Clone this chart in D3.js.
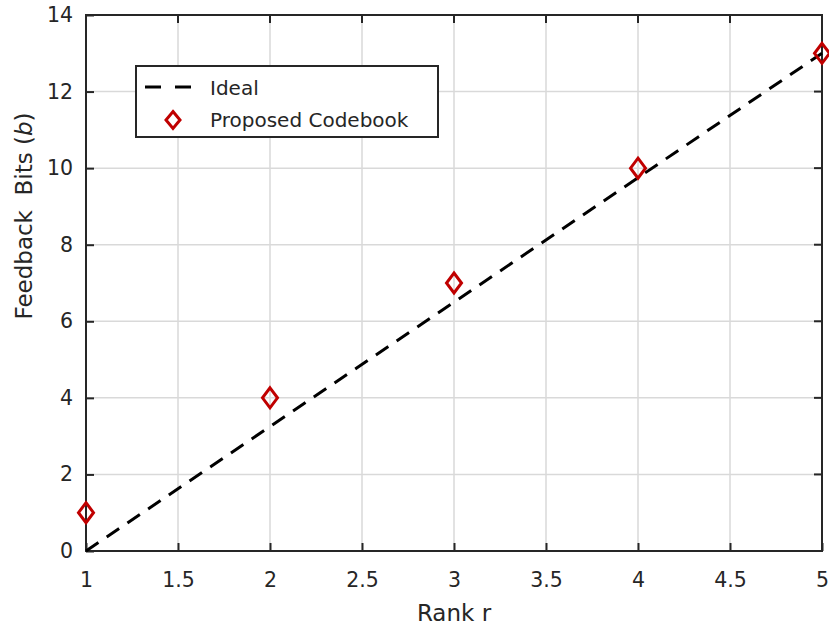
<!DOCTYPE html>
<html>
<head>
<meta charset="utf-8">
<script src="https://cdn.jsdelivr.net/npm/d3@7"></script>
<style>
  body { margin: 0; background: #fff; }
  svg text { font-family: "DejaVu Sans", Verdana, sans-serif; fill: #262626; }
</style>
</head>
<body>
<svg id="chart" width="829" height="629"></svg>
<script>
// Data
var ranks = [1, 2, 3, 4, 5];
var idealRanks = [1, 5];
var idealBits = [0, 13];          // ideal line from r=1 to r=5
var proposedBits = [1, 4, 7, 10, 13];
var xTicks = [1, 1.5, 2, 2.5, 3, 3.5, 4, 4.5, 5];
var yTicks = [0, 2, 4, 6, 8, 10, 12, 14];

var svg = d3.select("#chart");
const margin = { top: 15, right: 7, bottom: 78, left: 86 };
const width = 829, height = 629;
const innerWidth = width - margin.left - margin.right;
const innerHeight = height - margin.top - margin.bottom;

const g = svg.append("g").attr("transform", `translate(${margin.left},${margin.top})`);

const xScale = d3.scaleLinear().domain([1, 5]).range([0, innerWidth]);
const yScale = d3.scaleLinear().domain([0, 14]).range([innerHeight, 0]);

// grid
g.append("g").selectAll("line").data(xTicks).enter().append("line")
    .attr("x1", d => xScale(d)).attr("x2", d => xScale(d))
    .attr("y1", 0).attr("y2", innerHeight)
    .attr("stroke", "#d9d9d9").attr("stroke-width", 1.5);
g.append("g").selectAll("line").data(yTicks).enter().append("line")
    .attr("x1", 0).attr("x2", innerWidth)
    .attr("y1", d => yScale(d)).attr("y2", d => yScale(d))
    .attr("stroke", "#d9d9d9").attr("stroke-width", 1.5);

// axes (ticks pointing inward)
const xAxis = d3.axisBottom(xScale).tickValues(xTicks).tickSize(-8).tickPadding(21)
    .tickFormat(d3.format("~g"));
const gx = g.append("g").attr("transform", `translate(0,${innerHeight})`).call(xAxis);
const yAxis = d3.axisLeft(yScale).tickValues(yTicks).tickSize(-8).tickPadding(13);
const gy = g.append("g").call(yAxis);
[gx, gy].forEach(a => {
    a.attr("font-size", null).attr("font-family", null);
    a.selectAll(".domain").remove();
    a.selectAll(".tick line").attr("stroke", "#262626").attr("stroke-width", 2);
    a.selectAll("text").style("font-size", "20.5px").attr("fill", "#262626");
});
// top/right ticks
g.append("g").selectAll("line").data(xTicks).enter().append("line")
    .attr("x1", d => xScale(d)).attr("x2", d => xScale(d))
    .attr("y1", 0).attr("y2", 8).attr("stroke", "#262626").attr("stroke-width", 2);
g.append("g").selectAll("line").data(yTicks).enter().append("line")
    .attr("x1", innerWidth).attr("x2", innerWidth - 8)
    .attr("y1", d => yScale(d)).attr("y2", d => yScale(d))
    .attr("stroke", "#262626").attr("stroke-width", 2);

// box
g.append("rect").attr("width", innerWidth).attr("height", innerHeight)
    .attr("fill", "none").attr("stroke", "#262626").attr("stroke-width", 2);

// ideal line
g.append("path")
    .datum(idealRanks.map((r, i) => [r, idealBits[i]]))
    .attr("fill", "none").attr("stroke", "#000").attr("stroke-width", 3)
    .attr("stroke-dasharray", "15,10")
    .attr("d", d3.line().x(d => xScale(d[0])).y(d => yScale(d[1])));

// diamonds
const diamond = "M0,-10 L7.5,0 L0,10 L-7.5,0 Z";
g.append("g").selectAll("path").data(ranks).enter().append("path")
    .attr("d", diamond)
    .attr("transform", (d, i) => `translate(${xScale(d)},${yScale(proposedBits[i])})`)
    .attr("fill", "none").attr("stroke", "#c00000").attr("stroke-width", 3);

// legend
const lg = svg.append("g");
lg.append("rect").attr("x", 136).attr("y", 66).attr("width", 302).attr("height", 71)
    .attr("fill", "#fff").attr("stroke", "#262626").attr("stroke-width", 2);
lg.append("line").attr("x1", 145).attr("x2", 193).attr("y1", 87).attr("y2", 87)
    .attr("stroke", "#000").attr("stroke-width", 3).attr("stroke-dasharray", "16,14");
lg.append("path").attr("d", "M0,-8.5 L7,0 L0,8.5 L-7,0 Z").attr("transform", "translate(173,120)")
    .attr("fill", "none").attr("stroke", "#c00000").attr("stroke-width", 3);
lg.append("text").attr("x", 210).attr("y", 95).text("Ideal").style("font-size", "20px");
lg.append("text").attr("x", 210).attr("y", 127).text("Proposed Codebook").style("font-size", "20px");

// axis labels
svg.append("text").attr("x", margin.left + innerWidth / 2).attr("y", 621)
    .attr("text-anchor", "middle").style("font-size", "23px").text("Rank r");
const yl = svg.append("text").attr("transform", "translate(32,216) rotate(-90)")
    .attr("text-anchor", "middle").style("font-size", "23px").style("white-space", "pre");
yl.append("tspan").text("Feedback  Bits (");
yl.append("tspan").style("font-style", "italic").text("b");
yl.append("tspan").text(")");
</script>
</body>
</html>
